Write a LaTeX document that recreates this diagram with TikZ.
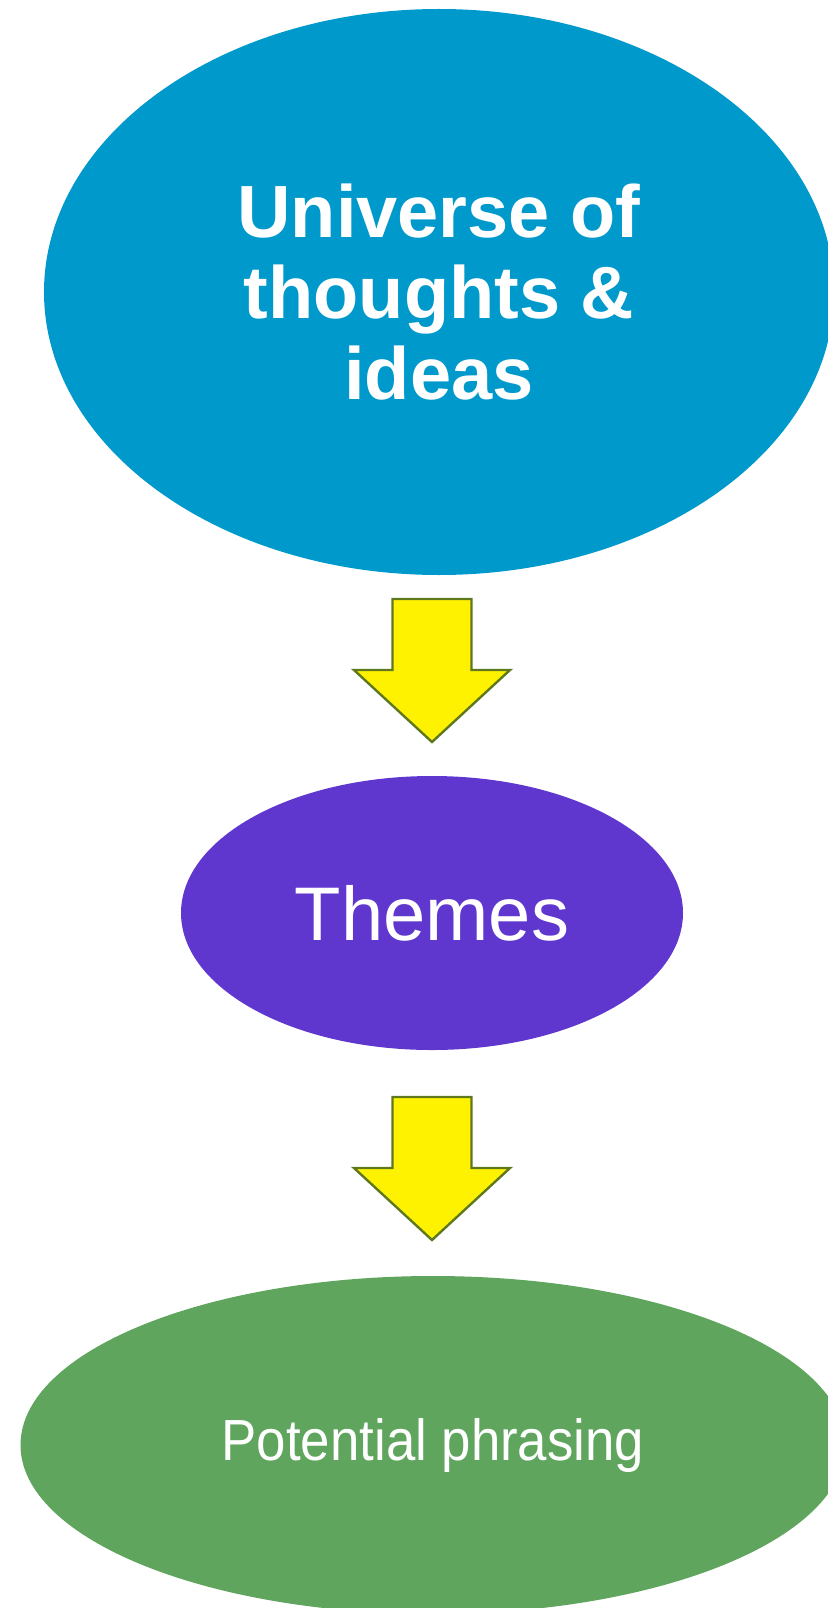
\documentclass[tikz,border=0pt]{standalone}
\usepackage{fontspec}
\setmainfont{Liberation Sans}
\usetikzlibrary{shapes.geometric}
\definecolor{ideablue}{RGB}{0,153,204}
\definecolor{themepurple}{RGB}{95,55,207}
\definecolor{phrasegreen}{RGB}{95,165,93}
\definecolor{arrowedge}{RGB}{95,120,30}
\tikzset{
blob/.style={
	  ellipse, inner sep=0pt, text=white, align=center},
arrowbox/.style={fill=yellow, draw=arrowedge, line width=2.4pt, line join=miter},
downarrow/.pic={
	  \draw[arrowbox] (-39.5,0) -- (39.5,0) -- (39.5,-71) -- (78,-71)
	    -- (0,-143) -- (-78,-71) -- (-39.5,-71) -- cycle;}
}

\begin{document}
\begin{tikzpicture}[x=1pt, y=1pt]
	\useasboundingbox (0,0) rectangle (827,-1608);
	\node[blob, fill=ideablue, minimum width=790pt, minimum height=566pt,
	  font=\fontsize{74}{81}\selectfont\bfseries] (universe) at (439,-292)
	  {Universe of\\thoughts \&\\ideas};
	\pic (arrowA) at (432,-599) {downarrow};
	\node[blob, fill=themepurple, minimum width=502pt, minimum height=274pt,
	  font=\fontsize{76}{80}\selectfont] (themes) at (432,-913) {Themes};
	\pic (arrowB) at (432,-1097) {downarrow};
	\node[blob, fill=phrasegreen, minimum width=825pt, minimum height=338pt,
	  font=\fontsize{58}{62}\selectfont] (phrasing) at (433,-1445)
	  {\scalebox{0.91}[1]{Potential phrasing}};
\end{tikzpicture}
\end{document}
